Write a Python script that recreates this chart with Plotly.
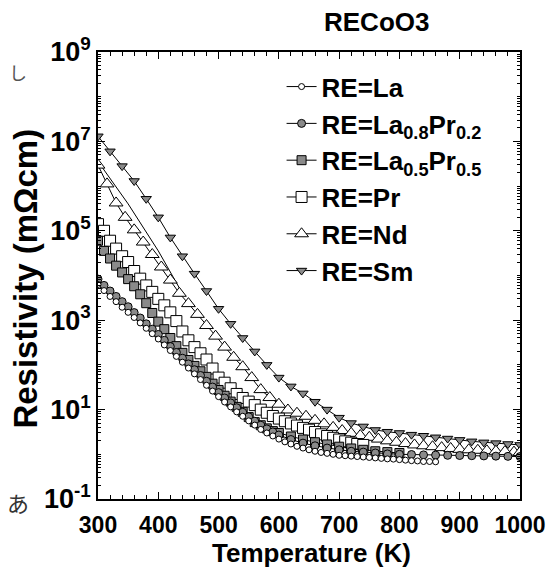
import plotly.graph_objects as go

# ---------------- data ----------------
t_la = [300,310,320,330,340,350,360,370,380,390,400,410,420,430,440,450,460,470,480,490,
        500,510,520,530,540,550,560,570,580,590,600,610,620,630,640,650,660,670,680,690,
        700,710,720,730,740,750,760,770,780,790,800,810,820,830,840,850,860]
rho_la = [6300,4600,3400,2600,1950,1500,1150,870,660,500,380,280,210,155,115,85,63,47,35,26,
          19.5,14.8,11.5,8.9,7.1,5.6,4.5,3.6,3.0,2.57,2.19,1.9,1.7,1.51,1.38,1.26,1.17,1.10,1.05,1.0,
          0.95,0.93,0.91,0.89,0.87,0.85,0.83,0.81,0.79,0.78,0.76,0.74,0.72,0.71,0.69,0.69,0.68]

t_la8 = [300,310,320,330,340,350,360,370,380,390,400,410,420,430,440,450,460,470,480,490,
         500,510,520,530,540,550,560,570,580,590,600,620,640,660,680,700,720,740,760,780,
         800,820,840,860,880,900,920,940,960,980,1000]
rho_la8 = [8300,6000,4500,3400,2600,2000,1480,1120,830,630,480,355,257,190,141,105,78,58,43,32,
           24,18.2,14.1,11.0,8.7,6.9,5.5,4.47,3.7,3.16,2.7,2.14,1.78,1.55,1.38,1.26,1.17,1.12,1.07,1.02,
           1.0,0.99,0.97,0.96,0.95,0.94,0.93,0.92,0.91,0.90,0.89]

t_la5 = [300,310,320,330,340,350,360,370,380,390,400,410,420,430,440,450,460,470,480,490,
         500,510,520,530,540,550,560,570,580,590,600,620,640,660,680,700,720,740,760,780,800]
rho_la5 = [60000,35500,24000,16600,11700,8300,5750,3800,2400,1450,930,630,400,263,186,129,95,72,54,38,
           27.5,20.4,15.1,11.5,8.9,6.8,5.25,4.47,3.8,3.3,3.0,2.5,2.14,1.86,1.66,1.48,1.35,1.26,1.17,1.12,1.07]

t_pr = [300,310,320,330,340,350,360,370,380,390,400,410,420,430,440,450,460,470,480,490,
        500,510,520,530,540,550,560,570,580,590,600,610,620,630,640,650,660,670,680,690,
        700,710,720,730,740]
rho_pr = [141000,100000,60000,40000,27000,20000,12600,8500,6000,4300,3000,2150,1500,955,560,355,250,182,132,83,
          52,40,30,22.4,18.2,15.1,12.6,10.0,8.5,7.2,6.3,5.5,4.9,4.4,3.9,3.55,3.16,2.8,2.57,2.34,
          2.14,1.95,1.82,1.70,1.62]

t_nd = [300,315,330,345,360,375,390,405,420,435,450,465,480,495,510,525,540,555,570,585,
        600,615,630,645,660,675,690,705,720,735,750,765,780,795,810,825,840,855,870,885,
        900,915,930,945,960,975,990,1000]
rho_nd = [2.95e6,1.12e6,4.2e5,2.0e5,1.05e5,5.6e4,2.95e4,1.55e4,7900,4000,2350,1350,760,440,250,148,91,52,28,18.6,
          13.2,9.8,8.3,7.1,5.75,4.8,4.0,3.4,2.95,2.63,2.4,2.19,2.0,1.86,1.74,1.62,1.55,1.48,1.41,1.35,
          1.29,1.26,1.23,1.20,1.17,1.15,1.12,1.10]

t_nd_line = [300, 350, 400, 440]
rho_nd_line = [3.55e6, 4.0e5, 3.55e4, 4.0e3]

t_sm = [300,320,340,360,380,400,420,440,460,480,500,520,540,560,580,600,620,640,660,680,
        700,720,740,760,780,800,820,840,860,880,900,920,940,960,980,1000]
rho_sm = [1.3e7,6.0e6,2.8e6,1.3e6,5.2e5,2.0e5,7.1e4,2.7e4,1.1e4,4500,1800,830,400,200,100,52,33,23,15,10,
          6.6,5.0,4.2,3.5,3.2,3.0,2.75,2.6,2.4,2.25,2.1,1.95,1.85,1.78,1.7,1.62]

x_ticks = [300, 400, 500, 600, 700, 800, 900, 1000]
y_ticks = [1e-1, 1e1, 1e3, 1e5, 1e7, 1e9]
y_ticktext = ["10<sup>-1</sup>", "10<sup>1</sup>", "10<sup>3</sup>",
              "10<sup>5</sup>", "10<sup>7</sup>", "10<sup>9</sup>"]

FONT = "Liberation Sans, Arial, sans-serif"
GREY = "#8a8a8a"

# minor log ticks (axis decoration only)
y_minor = [m * 10.0 ** e for e in range(-1, 9) for m in range(1, 10)]

fig = go.Figure()

# extra straight line near the Nd data (no legend entry)
fig.add_trace(go.Scatter(x=t_nd_line, y=rho_nd_line, mode="lines",
                         line=dict(color="black", width=1), showlegend=False, hoverinfo="skip"))

series = [
    ("RE=Sm", t_sm, rho_sm, dict(symbol="triangle-down", size=9, color=GREY, line=dict(color="black", width=1)), 6),
    ("RE=Nd", t_nd, rho_nd, dict(symbol="triangle-up", size=12, color="white", line=dict(color="black", width=1)), 5),
    ("RE=Pr", t_pr, rho_pr, dict(symbol="square", size=11, color="white", line=dict(color="black", width=1)), 4),
    ("RE=La<sub>0.5</sub>Pr<sub>0.5</sub>", t_la5, rho_la5, dict(symbol="square", size=9, color=GREY, line=dict(color="black", width=1)), 3),
    ("RE=La<sub>0.8</sub>Pr<sub>0.2</sub>", t_la8, rho_la8, dict(symbol="circle", size=8, color=GREY, line=dict(color="black", width=1)), 2),
    ("RE=La", t_la, rho_la, dict(symbol="circle", size=6, color="white", line=dict(color="black", width=1)), 1),
]
for name, tx, ry, mk, rank in series:
    fig.add_trace(go.Scatter(x=tx, y=ry, mode="lines+markers", name=name,
                             line=dict(color="black", width=1), marker=mk, legendrank=rank))

axis_common = dict(showline=True, linecolor="black", linewidth=1.5, mirror="allticks",
                   ticks="inside", tickcolor="black", showgrid=False, zeroline=False)

# page body adds an 8 px offset, so the figure is 8 px smaller than the window
fig.update_layout(
    width=550, height=562,
    margin=dict(l=90, r=36, t=44, b=71),
    paper_bgcolor="white", plot_bgcolor="white",
    font=dict(family=FONT, color="black"),
    xaxis=dict(range=[300, 1000], tickvals=x_ticks, ticklen=7, tickwidth=1,
               tickfont=dict(size=23, family=FONT, weight="bold"), ticklabelstandoff=5,
               minor=dict(dtick=20, ticks="inside", ticklen=4, tickcolor="black"),
               **axis_common),
    yaxis=dict(type="log", range=[-1, 9], tickmode="array", tickvals=y_ticks, ticktext=y_ticktext,
               ticklen=7, tickwidth=1,
               tickfont=dict(size=27, family=FONT, weight="bold"),
               minor=dict(tickmode="array", tickvals=y_minor, ticks="inside", ticklen=3, tickcolor="black"),
               **axis_common),
    legend=dict(x=0.435, y=0.975, xanchor="left", yanchor="top", bgcolor="rgba(0,0,0,0)",
                font=dict(size=26, family=FONT, weight="bold"),
                itemsizing="trace"),
    showlegend=True,
)

fig.add_annotation(text="RECoO3", xref="paper", yref="paper", x=0.66, y=1.067,
                   showarrow=False, xanchor="center", yanchor="middle",
                   font=dict(size=26, family=FONT, weight="bold"))
fig.add_annotation(text="Temperature (K)", xref="paper", yref="paper", x=0.507, y=-0.1215,
                   showarrow=False, xanchor="center", yanchor="middle",
                   font=dict(size=26, family=FONT, weight="bold"))
fig.add_annotation(text="Resistivity (mΩcm)", xref="paper", yref="paper", x=-0.172, y=0.494,
                   showarrow=False, xanchor="center", yanchor="middle", textangle=-90,
                   font=dict(size=33, family=FONT, weight="bold"))
fig.add_annotation(text="あ", xref="paper", yref="paper", x=-0.19, y=-0.007,
                   showarrow=False, xanchor="center", yanchor="middle",
                   font=dict(size=22, family="Noto Sans CJK JP", color="#333"))
fig.add_annotation(text="し", xref="paper", yref="paper", x=-0.19, y=0.955,
                   showarrow=False, xanchor="center", yanchor="middle",
                   font=dict(size=18, family="Noto Sans CJK JP", color="#555"))

fig.write_html("out.html")
